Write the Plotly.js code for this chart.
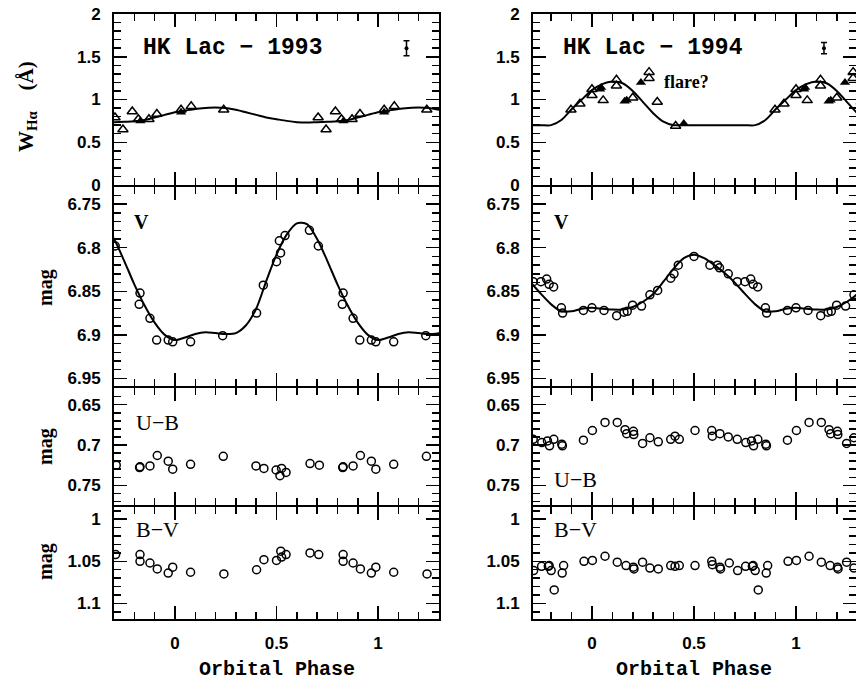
<!DOCTYPE html>
<html>
<head>
<meta charset="utf-8">
<script src="https://cdn.plot.ly/plotly-3.0.1.min.js"></script>
<style>html,body{margin:0;padding:0;background:#fff;}#chart{width:856px;height:682px;}</style>
</head>
<body>
<div id="chart"></div>
<script>
// ---------- DATA (phases folded into 0..1, plotted over -0.3..1.3) ----------
// H-alpha equivalent width, 1993
const ha93OpenPhase = [0.705, 0.744, 0.790, 0.872, 0.911, 0.030, 0.080, 0.240, 0.820];
const ha93OpenW     = [0.79,  0.65,  0.86,  0.77,  0.83,  0.88,  0.92,  0.88,  0.77];
const ha93FillPhase = [0.830, 0.030];
const ha93FillW     = [0.75,  0.85];
const ha93FitPhase  = [0,0.05,0.10,0.15,0.20,0.25,0.30,0.35,0.40,0.45,0.50,0.55,0.60,0.65,0.70,0.75,0.80,0.85,0.90,0.95];
const ha93FitW      = [0.85,0.87,0.89,0.90,0.905,0.90,0.88,0.85,0.82,0.79,0.77,0.75,0.735,0.73,0.735,0.74,0.745,0.76,0.79,0.82];
const ha93ErrPhase = [1.14], ha93ErrW = [1.60], ha93ErrBar = [0.087];

// H-alpha equivalent width, 1994
const ha94OpenPhase = [0.897,0.941,0.000,0.000,0.055,0.120,0.120,0.200,0.280,0.280,0.320,0.410];
const ha94OpenW     = [0.88, 0.95, 1.05, 1.12, 0.99, 1.23, 1.16, 1.02, 1.25, 1.32, 0.97, 0.69];
const ha94FillPhase = [0.040,0.045,0.160,0.170,0.240,0.450];
const ha94FillW     = [1.12, 1.14, 0.98, 0.99, 1.20, 0.72];
const ha94FitPhase  = [0,0.05,0.10,0.15,0.20,0.25,0.30,0.35,0.40,0.45,0.50,0.55,0.60,0.65,0.70,0.75,0.80,0.85,0.90,0.95];
const ha94FitW      = [1.11,1.18,1.21,1.19,1.10,0.97,0.84,0.74,0.70,0.70,0.70,0.70,0.70,0.70,0.70,0.70,0.70,0.76,0.885,1.00];
const ha94ErrPhase = [1.137], ha94ErrW = [1.60], ha94ErrBar = [0.066];

// V magnitude
const v93Phase = [0.828,0.824,0.877,0.910,0.967,0.989,0.077,0.235,0.402,0.435,0.500,0.520,0.514,0.542,0.662,0.706];
const v93Mag   = [6.852,6.865,6.881,6.906,6.906,6.908,6.908,6.901,6.875,6.843,6.816,6.806,6.792,6.786,6.780,6.798];
const v93FitPhase = [0,0.05,0.10,0.15,0.20,0.25,0.30,0.35,0.40,0.45,0.50,0.55,0.60,0.65,0.70,0.75,0.80,0.85,0.90,0.95];
const v93FitMag   = [6.906,6.903,6.899,6.897,6.898,6.899,6.898,6.889,6.870,6.838,6.808,6.785,6.772,6.773,6.790,6.815,6.842,6.866,6.886,6.900];

const v94Phase = [0.000,0.059,0.121,0.157,0.173,0.199,0.243,0.284,0.322,0.386,0.402,0.423,0.500,0.578,0.615,0.625,0.668,0.712,0.750,0.778,0.790,0.812,0.850,0.856,0.958];
const v94Mag   = [6.869,6.872,6.878,6.874,6.873,6.866,6.867,6.854,6.849,6.835,6.830,6.820,6.810,6.820,6.820,6.823,6.830,6.839,6.839,6.836,6.842,6.845,6.869,6.875,6.872];
const v94FitPhase = [0,0.05,0.10,0.15,0.20,0.25,0.30,0.35,0.40,0.45,0.50,0.55,0.60,0.65,0.70,0.75,0.80,0.85,0.90,0.95];
const v94FitMag   = [6.869,6.870,6.871,6.871,6.868,6.862,6.853,6.839,6.824,6.812,6.808,6.812,6.820,6.829,6.840,6.853,6.865,6.873,6.873,6.870];

// U-B colour
const ub93Phase = [0.711,0.828,0.826,0.877,0.913,0.967,0.989,0.077,0.238,0.399,0.438,0.498,0.517,0.525,0.547,0.665];
const ub93Mag   = [0.725,0.727,0.728,0.726,0.713,0.720,0.730,0.724,0.714,0.726,0.729,0.731,0.738,0.729,0.734,0.723];
const ub94Phase = [0.712,0.754,0.782,0.792,0.813,0.852,0.855,0.958,0.002,0.064,0.124,0.162,0.170,0.203,0.205,0.248,0.284,0.325,0.386,0.407,0.428,0.505,0.587,0.590,0.627,0.668];
const ub94Mag   = [0.693,0.697,0.695,0.701,0.693,0.699,0.701,0.694,0.682,0.672,0.672,0.681,0.686,0.683,0.687,0.698,0.691,0.696,0.693,0.689,0.693,0.682,0.682,0.689,0.686,0.690];

// B-V colour
const bv93Phase = [0.708,0.828,0.828,0.877,0.913,0.967,0.989,0.077,0.241,0.402,0.438,0.500,0.521,0.525,0.547,0.665];
const bv93Mag   = [1.042,1.042,1.050,1.052,1.059,1.064,1.057,1.063,1.065,1.060,1.048,1.049,1.038,1.045,1.042,1.040];
const bv94Phase = [0.714,0.753,0.786,0.790,0.800,0.815,0.854,0.861,0.961,0.002,0.064,0.124,0.167,0.203,0.206,0.248,0.284,0.325,0.386,0.407,0.428,0.505,0.587,0.590,0.627,0.630,0.673];
const bv94Mag   = [1.061,1.056,1.056,1.055,1.061,1.084,1.064,1.055,1.050,1.049,1.044,1.051,1.055,1.057,1.059,1.051,1.058,1.059,1.055,1.056,1.055,1.055,1.050,1.054,1.057,1.059,1.052];

// tick spacing (major / minor) per panel
const phaseTick = { tick0: 0, dtick: 0.5, minor: 0.1 };
const haTick = { tick0: 0, dtick: 0.5, minor: 0.1 };
const vTick = { tick0: 6.75, dtick: 0.05, minor: 0.01 };
const ubTick = { tick0: 0.65, dtick: 0.05, minor: 0.01 };
const bvTick = { tick0: 1.0, dtick: 0.05, minor: 0.01 };

// ---------- helpers ----------
const LEFT_RANGE = [-0.3, 1.3];
const RIGHT_RANGE = [-0.289, 1.294];

function fold(ph, val, lo, hi, pad) {
  const pts = [];
  for (let i = 0; i < ph.length; i++) {
    for (const k of [-1, 0, 1]) {
      const x = ph[i] + k;
      if (x >= lo - pad && x <= hi + pad) pts.push([x, val[i]]);
    }
  }
  pts.sort((a, b) => a[0] - b[0]);
  return { x: pts.map(p => p[0]), y: pts.map(p => p[1]) };
}

function pts(ph, val, range, ax, symbol, size) {
  const f = fold(ph, val, range[0], range[1], 0.03);
  const filled = symbol.indexOf('open') < 0;
  return {
    x: f.x, y: f.y, xaxis: 'x' + ax, yaxis: 'y' + ax, type: 'scatter', mode: 'markers',
    marker: { symbol: symbol, size: size, color: 'black',
              line: { color: 'black', width: filled ? 0 : 1.5 } },
    hoverinfo: 'skip'
  };
}

function fit(ph, val, range, ax) {
  const f = fold(ph, val, range[0], range[1], 0.12);
  return {
    x: f.x, y: f.y, xaxis: 'x' + ax, yaxis: 'y' + ax, type: 'scatter', mode: 'lines',
    line: { color: 'black', width: 2, shape: 'spline', smoothing: 0.8 }, hoverinfo: 'skip'
  };
}

function err(ph, val, e, ax) {
  return {
    x: ph, y: val, xaxis: 'x' + ax, yaxis: 'y' + ax, type: 'scatter', mode: 'markers',
    marker: { symbol: 'circle', size: 4, color: 'black' },
    error_y: { type: 'data', array: e, visible: true, color: 'black', thickness: 1.5, width: 3 },
    hoverinfo: 'skip'
  };
}

const traces = [
  fit(ha93FitPhase, ha93FitW, LEFT_RANGE, ''),
  pts(ha93OpenPhase, ha93OpenW, LEFT_RANGE, '', 'triangle-up-open', 9),
  pts(ha93FillPhase, ha93FillW, LEFT_RANGE, '', 'triangle-up', 9),
  err(ha93ErrPhase, ha93ErrW, ha93ErrBar, ''),
  fit(v93FitPhase, v93FitMag, LEFT_RANGE, '2'),
  pts(v93Phase, v93Mag, LEFT_RANGE, '2', 'circle-open', 8),
  pts(ub93Phase, ub93Mag, LEFT_RANGE, '3', 'circle-open', 8),
  pts(bv93Phase, bv93Mag, LEFT_RANGE, '4', 'circle-open', 8),

  fit(ha94FitPhase, ha94FitW, RIGHT_RANGE, '5'),
  pts(ha94OpenPhase, ha94OpenW, RIGHT_RANGE, '5', 'triangle-up-open', 9),
  pts(ha94FillPhase, ha94FillW, RIGHT_RANGE, '5', 'triangle-up', 9),
  err(ha94ErrPhase, ha94ErrW, ha94ErrBar, '5'),
  fit(v94FitPhase, v94FitMag, RIGHT_RANGE, '6'),
  pts(v94Phase, v94Mag, RIGHT_RANGE, '6', 'circle-open', 8),
  pts(ub94Phase, ub94Mag, RIGHT_RANGE, '7', 'circle-open', 8),
  pts(bv94Phase, bv94Mag, RIGHT_RANGE, '8', 'circle-open', 8)
];

// ---------- layout ----------
const W = 856, H = 682;
const py = v => 1 - v / H;
const tickFont = { family: 'Liberation Sans, Arial, sans-serif', size: 17, color: 'black', weight: 'bold' };

// panel edges in px; shared borders overlap so the frame lines coincide
const rowDomains = [
  [py(185), py(14)],   // H-alpha
  [py(386), py(187)],  // V
  [py(505), py(388)],  // U-B
  [py(619), py(507)]   // B-V
];
const colDomains = [[114 / W, 439 / W], [533 / W, 1]];

function xAxis(col, row, anchor) {
  return {
    domain: colDomains[col], range: col === 0 ? LEFT_RANGE : RIGHT_RANGE, anchor: anchor,
    showline: true, mirror: 'allticks', linecolor: 'black', linewidth: 2,
    ticks: 'inside', ticklen: 13, tickwidth: 1.5, tickcolor: 'black',
    tickmode: 'linear', tick0: phaseTick.tick0, dtick: phaseTick.dtick,
    showticklabels: row === 3, tickfont: tickFont, ticklabelstandoff: 8,
    minor: { ticks: 'inside', ticklen: 7, tickwidth: 1.5, tickcolor: 'black', tickmode: 'linear', dtick: phaseTick.minor, tick0: 0, showgrid: false },
    showgrid: false, zeroline: false, fixedrange: true
  };
}

const yConf = [
  { range: [0, 2], t: haTick },
  { range: [6.9587, 6.7303], t: vTick },
  { range: [0.7744, 0.6293], t: ubTick },
  { range: [1.1185, 0.9855], t: bvTick }
];

function yAxis(col, row, anchor) {
  const c = yConf[row];
  return {
    domain: rowDomains[row], range: c.range, anchor: anchor,
    showline: true, mirror: 'allticks', linecolor: 'black', linewidth: 2,
    ticks: 'inside', ticklen: 13, tickwidth: 1.5, tickcolor: 'black',
    tickmode: 'linear', tick0: c.t.tick0, dtick: c.t.dtick,
    showticklabels: true, tickfont: tickFont, ticklabelstandoff: 8,
    minor: { ticks: 'inside', ticklen: 7, tickwidth: 1.5, tickcolor: 'black', tickmode: 'linear', dtick: c.t.minor, tick0: c.t.tick0, showgrid: false },
    showgrid: false, zeroline: false, fixedrange: true
  };
}

const layout = {
  width: W, height: H, margin: { l: 0, r: 0, t: 0, b: 0 },
  paper_bgcolor: 'white', plot_bgcolor: 'white', showlegend: false,
  annotations: []
};

for (let col = 0; col < 2; col++) {
  for (let row = 0; row < 4; row++) {
    const n = col * 4 + row + 1;
    const s = n === 1 ? '' : String(n);
    layout['xaxis' + s] = xAxis(col, row, 'y' + s);
    layout['yaxis' + s] = yAxis(col, row, 'x' + s);
  }
}

const serifBold = { family: 'Liberation Serif, Times New Roman, serif', size: 20, color: 'black', weight: 'bold' };
const serif = { family: 'Liberation Serif, Times New Roman, serif', size: 22, color: 'black' };
const mono = { family: 'Liberation Mono, Courier New, monospace', size: 23, color: 'black', weight: 'bold' };

function dataNote(text, ax, x, y, font) {
  return { text: text, xref: 'x' + ax, yref: 'y' + ax, x: x, y: y, xanchor: 'left', yanchor: 'middle', showarrow: false, font: font };
}
function paperNote(text, x, y, font, angle) {
  return { text: text, xref: 'paper', yref: 'paper', x: x / W, y: py(y), xanchor: 'center', yanchor: 'middle', showarrow: false, font: font, textangle: angle || 0 };
}

layout.annotations.push(
  dataNote('HK Lac \u2212 1993', '', -0.165, 1.6, mono),
  dataNote('HK Lac \u2212 1994', '5', -0.153, 1.6, mono),
  dataNote('flare?', '5', 0.345, 1.20, { family: 'Liberation Serif, serif', size: 18, color: 'black', weight: 'bold' }),
  dataNote('V', '2', -0.212, 6.771, serifBold),
  dataNote('V', '6', -0.195, 6.771, serifBold),
  dataNote('U\u2212B', '3', -0.202, 0.672, serif),
  dataNote('U\u2212B', '7', -0.195, 0.743, serif),
  dataNote('B\u2212V', '4', -0.202, 1.0126, serif),
  dataNote('B\u2212V', '8', -0.197, 1.0126, serif),
  paperNote('W<sub>H\u03b1</sub>\u00a0\u00a0\u00a0\u00a0(\u00c5)', 27, 106, { family: 'Liberation Serif, serif', size: 21, color: 'black', weight: 'bold' }, -90),
  paperNote('mag', 45, 288, { family: 'Liberation Serif, serif', size: 20, color: 'black', weight: 'bold' }, -90),
  paperNote('mag', 45, 447, { family: 'Liberation Serif, serif', size: 20, color: 'black', weight: 'bold' }, -90),
  paperNote('mag', 45, 562, { family: 'Liberation Serif, serif', size: 20, color: 'black', weight: 'bold' }, -90),
  paperNote('Orbital Phase', 277, 669, { family: 'Liberation Mono, Courier New, monospace', size: 20, color: 'black', weight: 'bold' }),
  paperNote('Orbital Phase', 694, 669, { family: 'Liberation Mono, Courier New, monospace', size: 20, color: 'black', weight: 'bold' })
);

Plotly.newPlot('chart', traces, layout, { staticPlot: true, displayModeBar: false });
</script>
</body>
</html>
